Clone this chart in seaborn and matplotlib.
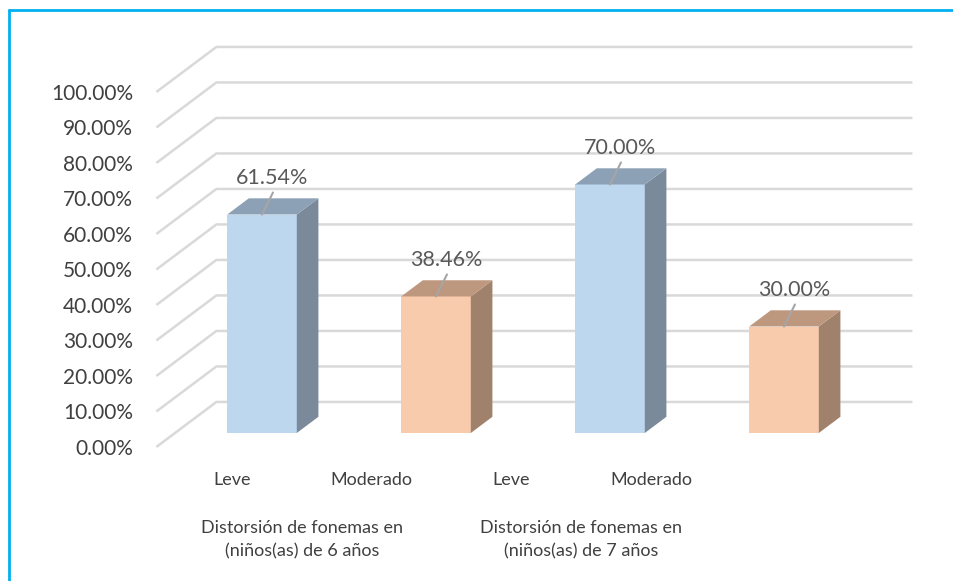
import matplotlib
matplotlib.use('Agg')
import matplotlib.pyplot as plt
from matplotlib.patches import Polygon
from matplotlib.lines import Line2D
import numpy as np
import pandas as pd
import seaborn as sns

# data
niveles = ["Leve", "Moderado", "Leve", "Moderado"]
grupos = ["Distorsión de fonemas en\n(niños(as) de 6 años",
          "Distorsión de fonemas en\n(niños(as) de 7 años"]
porcentajes = [61.54, 38.46, 70.00, 30.00]
ticks_y = [0, 10, 20, 30, 40, 50, 60, 70, 80, 90, 100]

frente = {"Leve": "#BDD7EE", "Moderado": "#F8CBAD"}
lateral = {"Leve": "#7A8A9A", "Moderado": "#A0826C"}
techo = {"Leve": "#8CA1B5", "Moderado": "#BE977F"}

df = pd.DataFrame({"barra": [f"{i}-{n}" for i, n in enumerate(niveles)],
                   "nivel": niveles, "pct": porcentajes})

sns.set_theme(style="white")
plt.rcParams['font.family'] = ['Lato', 'DejaVu Sans']

W, H = 954, 581
fig = plt.figure(figsize=(W / 100, H / 100), dpi=100)
ax = fig.add_axes([145 / W, (H - 462) / H, 795 / W, 437 / H])

# fake 3d depth (data units)
Dx, Dy = 0.345, 12.68
d_b, d_bar = 0.31, 0.36
x_lo, x_hi = -0.5, 3.5
grid_c = "#D9D9D9"

for v in ticks_y:
    xa, ya = x_lo - d_b * Dx, v - d_b * Dy
    xb, yb = x_lo + (1 - d_b) * Dx, v + (1 - d_b) * Dy
    xc = x_hi + (1 - d_b) * Dx
    ax.plot([xa, xb, xc], [ya, yb, yb], color=grid_c, lw=1.8, zorder=0.5,
            solid_capstyle="butt")

sns.barplot(data=df, x="barra", y="pct", hue="nivel", palette=frente,
            width=0.4, saturation=1, legend=False, ax=ax, zorder=2,
            linewidth=0)

# seaborn draws per hue level, so put the bars back in x order
barras = sorted(ax.patches, key=lambda p: p.get_x())

ox, oy = d_bar * Dx, d_bar * Dy
for p, n in zip(barras, niveles):
    x0 = p.get_x()
    x1 = x0 + p.get_width()
    h = p.get_height()
    ax.add_patch(Polygon([(x1, 0), (x1 + ox, oy), (x1 + ox, h + oy), (x1, h)],
                         closed=True, fc=lateral[n], ec="none", zorder=2))
    ax.add_patch(Polygon([(x0, h), (x1, h), (x1 + ox, h + oy), (x0 + ox, h + oy)],
                         closed=True, fc=techo[n], ec="none", zorder=2))
    xm = (x0 + x1) / 2
    ax.plot([xm, xm + 0.063], [h, h + 6.2], color="#A6A6A6", lw=1.5, zorder=3)
    ax.text(xm + 0.057, h + 10.2, f"{h:.2f}%", ha="center", va="center",
            fontsize=15.5, color="#595959", zorder=4)

ax.set_xlim((145 - 262) / 174, (940 - 262) / 174)
ax.set_ylim((433 - 462) / 3.55, (433 - 25) / 3.55)

ax.set_yticks([v - d_b * Dy for v in ticks_y])
ax.set_yticklabels([f"{v:.2f}%" for v in ticks_y], fontsize=15, color="#404040")

pos_lbl = [i * 0.803 - 0.172 for i in range(len(niveles))]
ax.set_xticks(pos_lbl)
ax.set_xticklabels(niveles, fontsize=13, color="#404040")
ax.tick_params(axis="both", length=0)
ax.tick_params(axis="y", pad=8.5)
ax.tick_params(axis="x", pad=7.5)
ax.set_xlabel("")
ax.set_ylabel("")
for s in ax.spines.values():
    s.set_visible(False)

for g, gt in enumerate(grupos):
    xg = (pos_lbl[2 * g] + pos_lbl[2 * g + 1]) / 2
    ax.text(xg, -0.178, gt, transform=ax.get_xaxis_transform(), ha="center",
            va="center", fontsize=13, color="#404040", linespacing=1.5)

# blue frame (left and top only visible)
bc = "#00B0F0"
fig.add_artist(Line2D([9 / W, 9 / W], [0, 1 - 10 / H], color=bc, lw=2))
fig.add_artist(Line2D([9 / W, 1], [1 - 10 / H, 1 - 10 / H], color=bc, lw=2))

fig.savefig("out.png", dpi=100)
